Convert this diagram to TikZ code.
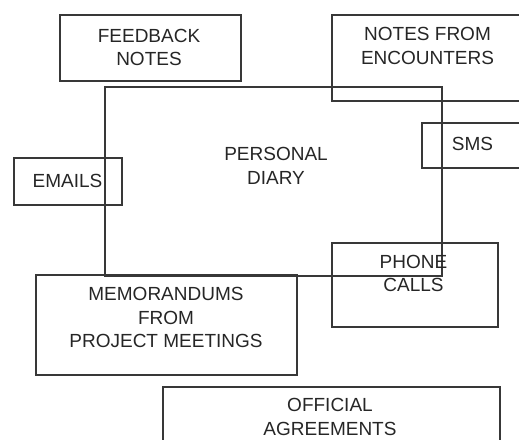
\documentclass[tikz,border=0pt]{standalone}
\usepackage{fontspec}
\setmainfont{Liberation Sans}
\begin{document}
\begin{tikzpicture}[x=1pt,y=-1pt,
  frame/.style={draw=black!78,line width=1.1pt,inner sep=0pt,outer sep=0pt},
  caption/.style={inner sep=0pt,align=center,text=black!85,
    font=\fontsize{19}{23.5}\selectfont}]
\useasboundingbox (0,0) rectangle (519,439);

% outline boxes
\node[frame,minimum width=181pt,minimum height=66pt]  (feedback)   at (150.5,48)   {};
\node[frame,minimum width=337pt,minimum height=189pt] (diary)      at (273.5,181.5){};
\node[frame,minimum width=108pt,minimum height=47pt]  (emails)     at (68,181.5)   {};
\node[frame,minimum width=191pt,minimum height=86pt]  (encounters) at (427.5,58)   {};
\node[frame,minimum width=101pt,minimum height=45pt]  (sms)        at (472.5,145.5){};
\node[frame,minimum width=166pt,minimum height=84pt]  (phone)      at (415,285)    {};
\node[frame,minimum width=261pt,minimum height=100pt] (memo)       at (166.5,325)  {};
\node[frame,minimum width=337pt,minimum height=73pt]  (official)   at (331.5,423.5){};

% captions
\node[caption] (tfeedback)   at (149,47.5)   {FEEDBACK\\NOTES};
\node[caption] (tdiary)      at (276,166)    {PERSONAL\\DIARY};
\node[caption] (temails)     at (67.5,180.5) {EMAILS};
\node[caption] (tencounters) at (427.5,46)   {NOTES FROM\\ENCOUNTERS};
\node[caption] (tsms)        at (472.5,143.5){SMS};
\node[caption] (tphone)      at (413.5,273.5){PHONE\\CALLS};
\node[caption] (tmemo)       at (166,317.5)  {MEMORANDUMS\\FROM\\PROJECT MEETINGS};
\node[caption] (tofficial)   at (330,417)    {OFFICIAL\\AGREEMENTS};
\end{tikzpicture}
\end{document}
